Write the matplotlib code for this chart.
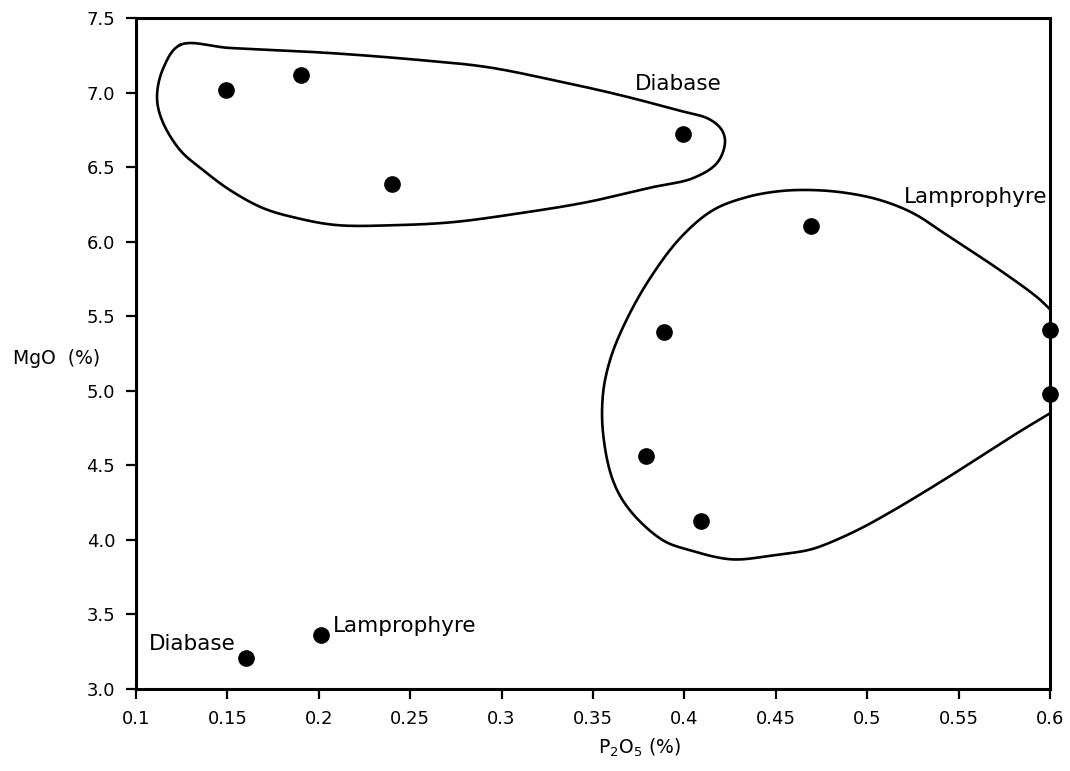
import matplotlib
matplotlib.use("Agg")
import matplotlib.pyplot as plt
import numpy as np

plt.rcParams['font.family'] = ['DejaVu Sans']

# Data points (P2O5 %, MgO %)
diabase_p2o5 = [0.149, 0.190, 0.240, 0.399]
diabase_mgo = [7.02, 7.115, 6.385, 6.72]
lamp_p2o5 = [0.469, 0.389, 0.379, 0.409, 0.600, 0.600]
lamp_mgo = [6.105, 5.395, 4.565, 4.13, 5.405, 4.98]
legend_p2o5 = [0.160, 0.201]
legend_mgo = [3.21, 3.36]

# Hand-drawn field outlines (vertices)
diabase_env_x = [0.1241, 0.1514, 0.2061, 0.2554, 0.2920, 0.3281, 0.3648, 0.3960, 0.4135,
                 0.4205, 0.4222, 0.4178, 0.4047, 0.3828, 0.3467, 0.3101, 0.2734, 0.2428,
                 0.2100, 0.1881, 0.1695, 0.1514, 0.1367, 0.1241, 0.1142, 0.1115, 0.1148]
diabase_env_y = [7.319, 7.299, 7.265, 7.218, 7.171, 7.084, 6.983, 6.883, 6.822,
                 6.748, 6.661, 6.527, 6.426, 6.366, 6.265, 6.191, 6.131, 6.111,
                 6.111, 6.158, 6.225, 6.346, 6.480, 6.614, 6.815, 6.970, 7.160]
lamp_env_x = [0.6, 0.5929, 0.5726, 0.5453, 0.5251, 0.5070, 0.4890, 0.4704, 0.4523,
              0.4342, 0.4156, 0.3976, 0.3795, 0.3664, 0.3593, 0.3555, 0.3555, 0.3609,
              0.3702, 0.3883, 0.4031, 0.4211, 0.4304, 0.4485, 0.4671, 0.4758, 0.4944,
              0.5125, 0.5415, 0.5819, 0.6]
lamp_env_y = [5.547, 5.628, 5.809, 6.030, 6.191, 6.279, 6.326, 6.346, 6.339,
              6.299, 6.211, 6.023, 5.722, 5.426, 5.205, 4.983, 4.715, 4.399,
              4.198, 3.997, 3.930, 3.876, 3.869, 3.896, 3.930, 3.963, 4.064,
              4.185, 4.399, 4.715, 4.849]

xticks = [0.1, 0.15, 0.2, 0.25, 0.3, 0.35, 0.4, 0.45, 0.5, 0.55, 0.6]
xticklabels = ["0.1", "0.15", "0.2", "0.25", "0.3", "0.35", "0.4", "0.45", "0.5", "0.55", "0.6"]
yticks = [3.0, 3.5, 4.0, 4.5, 5.0, 5.5, 6.0, 6.5, 7.0, 7.5]
yticklabels = ["3.0", "3.5", "4.0", "4.5", "5.0", "5.5", "6.0", "6.5", "7.0", "7.5"]


def smooth_outline(ax, xs, ys, closed, **kw):
    """Draw a smooth pen line through the outline vertices (centripetal Catmull-Rom, display space)."""
    pts = ax.transData.transform(np.column_stack([xs, ys]))
    if closed:
        P = np.vstack([pts[-1], pts, pts[0], pts[1]])
    else:
        P = np.vstack([2 * pts[0] - pts[1], pts, 2 * pts[-1] - pts[-2]])
    out = []
    for i in range(1, len(P) - 2):
        p0, p1, p2, p3 = P[i - 1], P[i], P[i + 1], P[i + 2]
        t0 = 0.0
        t1 = t0 + np.linalg.norm(p1 - p0) ** 0.5 + 1e-9
        t2 = t1 + np.linalg.norm(p2 - p1) ** 0.5 + 1e-9
        t3 = t2 + np.linalg.norm(p3 - p2) ** 0.5 + 1e-9
        t = np.linspace(t1, t2, 24, endpoint=False)[:, None]
        A1 = (t1 - t) / (t1 - t0) * p0 + (t - t0) / (t1 - t0) * p1
        A2 = (t2 - t) / (t2 - t1) * p1 + (t - t1) / (t2 - t1) * p2
        A3 = (t3 - t) / (t3 - t2) * p2 + (t - t2) / (t3 - t2) * p3
        B1 = (t2 - t) / (t2 - t0) * A1 + (t - t0) / (t2 - t0) * A2
        B2 = (t3 - t) / (t3 - t1) * A2 + (t - t1) / (t3 - t1) * A3
        C = (t2 - t) / (t2 - t1) * B1 + (t - t1) / (t2 - t1) * B2
        out.append(C)
    out.append(P[-2][None, :])
    curve = ax.transData.inverted().transform(np.vstack(out))
    ax.plot(curve[:, 0], curve[:, 1], **kw)


fig = plt.figure(figsize=(10.70, 7.71), dpi=100)
ax = fig.add_axes([136/1070, 1 - 689/771, (1050-136)/1070, (689-18)/771])
ax.set_xlim(0.1, 0.6)
ax.set_ylim(3.0, 7.5)

smooth_outline(ax, diabase_env_x, diabase_env_y, True, color='black', lw=1.9)
smooth_outline(ax, lamp_env_x, lamp_env_y, False, color='black', lw=1.9, clip_on=False)

ms = 11
ax.plot(diabase_p2o5, diabase_mgo, 'o', color='black', ms=ms, clip_on=False, zorder=5)
ax.plot(lamp_p2o5, lamp_mgo, 'o', color='black', ms=ms, clip_on=False, zorder=5)
ax.plot(legend_p2o5, legend_mgo, 'o', color='black', ms=ms, clip_on=False, zorder=5)

ax.text(0.373, 7.06, "Diabase", fontsize=15.5, ha='left', va='center')
ax.text(0.5985, 6.30, "Lamprophyre", fontsize=15.5, ha='right', va='center')
ax.text(0.1545, 3.305, "Diabase", fontsize=15.5, ha='right', va='center')
ax.text(0.2075, 3.42, "Lamprophyre", fontsize=15.5, ha='left', va='center')

ax.set_xticks(xticks)
ax.set_xticklabels(xticklabels)
ax.set_yticks(yticks)
ax.set_yticklabels(yticklabels)
ax.tick_params(direction='out', length=7, width=1.6, labelsize=13, pad=8)

for sp in ax.spines.values():
    sp.set_linewidth(2.2)

ax.text(-0.1346, 0.493, "MgO  (%)", transform=ax.transAxes, fontsize=13.5,
        ha='left', va='center')
ax.text(0.551, -0.087, r"P$_2$O$_5$ (%)", transform=ax.transAxes, fontsize=13.5,
        ha='center', va='center')

fig.savefig("out.png", dpi=100)
